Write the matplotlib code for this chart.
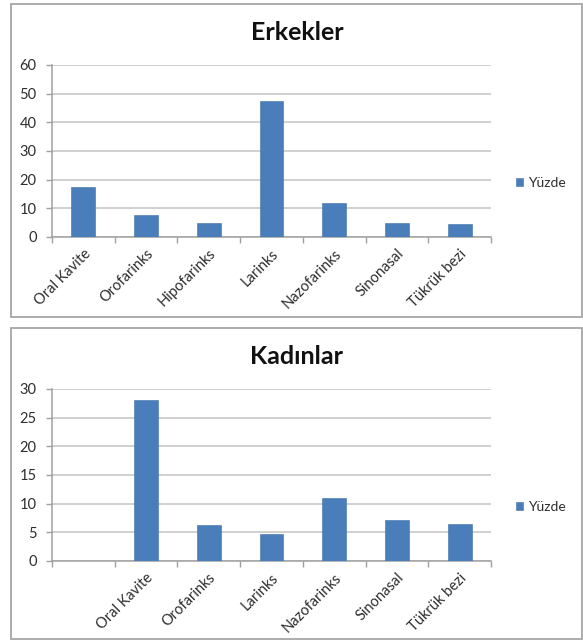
import matplotlib
matplotlib.use("Agg")
import matplotlib.pyplot as plt
from matplotlib.patches import Rectangle
import numpy as np

# Site distribution (%) of head and neck cancers by sex
men_categories = ["Oral Kavite", "Orofarinks", "Hipofarinks", "Larinks",
                  "Nazofarinks", "Sinonasal", "Tükrük bezi"]
men_values = [17.5, 7.6, 4.9, 47.6, 11.9, 4.9, 4.6]
men_yticks = [0, 10, 20, 30, 40, 50, 60]

women_categories = ["", "Oral Kavite", "Orofarinks", "Larinks",
                    "Nazofarinks", "Sinonasal", "Tükrük bezi"]
women_values = [np.nan, 28.1, 6.2, 4.75, 11.0, 7.2, 6.4]
women_yticks = [0, 5, 10, 15, 20, 25, 30]

series_name = "Yüzde"

BAR = "#4a7ebb"
GRID = "#c4c4c4"
TEXT = "#2e2e2e"
plt.rcParams["font.family"] = ["Lato", "DejaVu Sans"]

W, H = 583, 640
fig = plt.figure(figsize=(W / 100, H / 100), dpi=100)


def px_axes(left, top, right, bottom):
    return fig.add_axes([left / W, 1 - bottom / H, (right - left) / W, (bottom - top) / H])


def frame(left, top, right, bottom):
    fig.add_artist(Rectangle((left / W, 1 - bottom / H), (right - left) / W, (bottom - top) / H,
                             transform=fig.transFigure, fill=False,
                             edgecolor="#a6a6a6", linewidth=1.3))


def panel(top, title, cats, vals, yticks, title_y, legend_y):
    ax = px_axes(52, top, 491, top + 172)
    x = np.arange(len(cats))
    bars = ax.bar(x, vals, width=0.38, color=BAR, edgecolor="#3f6fa8", linewidth=0.4,
                  label=series_name, zorder=3)
    ax.set_xlim(-0.5, len(cats) - 0.5)
    ax.set_ylim(0, yticks[-1])
    ax.set_yticks(yticks)
    ax.set_yticklabels([str(t) for t in yticks], fontsize=10.5, color=TEXT)
    ax.yaxis.grid(True, color=GRID, linewidth=1.1, zorder=0)
    ax.set_axisbelow(True)
    # category boundary ticks, labels at centres
    ax.set_xticks(np.arange(-0.5, len(cats), 1.0))
    ax.set_xticklabels([])
    ax.set_xticks(x, minor=True)
    ax.set_xticklabels(cats, minor=True, rotation=45, ha="right", va="top",
                       rotation_mode="anchor", fontsize=10.5, color=TEXT)
    ax.tick_params(axis="x", which="major", length=4, color="#a0a0a0", width=1)
    ax.tick_params(axis="x", which="minor", length=0, pad=7)
    ax.tick_params(axis="y", length=4, color="#a0a0a0", width=1, pad=7)
    for s in ["top", "right"]:
        ax.spines[s].set_visible(False)
    ax.spines["left"].set_color("#a0a0a0")
    ax.spines["bottom"].set_color("#a0a0a0")
    ax.spines["left"].set_linewidth(1.1)
    ax.spines["bottom"].set_linewidth(1.1)
    fig.text(297 / W, 1 - title_y / H, title, ha="center", va="center",
             fontsize=18, fontweight="bold", color="#111111")
    leg = fig.legend(handles=[bars], labels=[series_name], loc="center left",
                     bbox_to_anchor=(510 / W, 1 - legend_y / H), frameon=False,
                     fontsize=10, handlelength=0.55, handleheight=0.55,
                     handletextpad=0.35, borderaxespad=0)
    for t in leg.get_texts():
        t.set_color(TEXT)
    return ax


frame(11, 4, 582, 317)
frame(11, 328, 582, 639)
panel(65, "Erkekler", men_categories, men_values, men_yticks, 32, 183)
panel(389, "Kadınlar", women_categories, women_values, women_yticks, 357, 507)

fig.savefig("out.png", dpi=100, facecolor="white")
